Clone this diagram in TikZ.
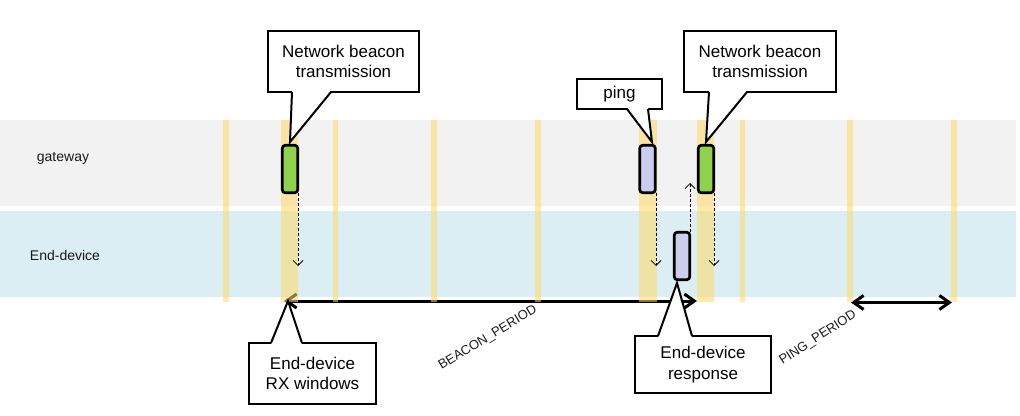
\documentclass[tikz,border=0pt]{standalone}
\usepackage{fontspec}
\setmainfont{Liberation Sans}
\usetikzlibrary{arrows.meta}
\definecolor{gwband}{HTML}{F2F2F2}
\definecolor{edband}{HTML}{DAEEF3}
\definecolor{stripecol}{HTML}{FFD966}
\definecolor{beaconcol}{HTML}{92D050}
\definecolor{pingcol}{HTML}{CCCCEE}
\begin{document}
\begin{tikzpicture}[x=1pt,y=-1pt,
  msgbox/.style={draw, line width=2.7pt, rounded corners=3pt, minimum width=15.5pt, minimum height=47.5pt, inner sep=0pt, outer sep=0pt},
  dasharrow/.style={dash pattern=on 3pt off 2pt, line width=0.8pt, -{Straight Barb[length=5pt,width=10pt]}},
  period/.style={line width=3pt, {Straight Barb[length=10pt,width=14pt]}-{Straight Barb[length=10pt,width=14pt]}},
  callbox/.style={draw, fill=white, line width=2pt, inner sep=0pt, outer sep=0pt, align=center, font=\fontsize{17}{20.5}\selectfont},
  pointer/.style={line width=2pt, line join=miter},
  lane/.style={font=\fontsize{14}{16}\selectfont, text=black!90},
  plabel/.style={font=\fontsize{13}{15}\selectfont, text=black!90, inner sep=0pt}]
\useasboundingbox (0,0) rectangle (1020,415);
% bands
\fill[gwband] (0,120) rectangle (1016,205.5);
\fill[edband] (0,211) rectangle (1016,297);
\node[lane] (lgw) at (63,158) {gateway};
\node[lane] (led) at (65,255) {End-device};
% period arrows
\coordinate (bp1) at (284,301);
\coordinate (bp2) at (697,301);
\draw[period] (bp1) -- (bp2);
\coordinate (pp1) at (851,302.5);
\coordinate (pp2) at (952,302.5);
\draw[period] (pp1) -- (pp2);
% stripes
\foreach \a/\b in {223/229, 281/297.5, 333/338, 431/437, 535/541, 639/657, 697.3/713.7, 740/745, 847.3/853.3, 951/957}
  \fill[stripecol, opacity=0.55] (\a,120) rectangle (\b,302);
% message boxes
\node[msgbox, fill=beaconcol] (g1) at (290,169) {};
\node[msgbox, fill=pingcol] (ping) at (647.5,169) {};
\node[msgbox, fill=beaconcol] (g2) at (706,169) {};
\node[msgbox, fill=pingcol] (resp) at (682,256) {};
% dashed arrows
\coordinate (a1) at (298,266);
\coordinate (a2) at (656,266);
\coordinate (a3) at (714,266);
\coordinate (u1) at (690,183);
\draw[dasharrow] (g1.south -| a1) -- (a1);
\draw[dasharrow] (ping.south -| a2) -- (a2);
\draw[dasharrow] (g2.south -| a3) -- (a3);
\draw[dasharrow] (resp.north -| u1) -- (u1);
% labels
\node[plabel, rotate=31] (bl) at (488,338) {BEACON\_PERIOD};
\node[plabel, rotate=33] (pl) at (818,338) {PING\_PERIOD};
% callouts
\node[callbox, minimum width=151pt, minimum height=61pt] (c1) at (343.5,61.5) {Network beacon\\transmission};
\coordinate (c1tip) at (290,142);
\fill[white] ([xshift=-51.5pt,yshift=1.5pt]c1.south) -- (c1tip) -- ([xshift=-12.5pt,yshift=1.5pt]c1.south) -- cycle;
\draw[pointer] ([xshift=-51.5pt]c1.south) -- (c1tip) -- ([xshift=-12.5pt]c1.south);

\node[callbox, minimum width=85pt, minimum height=30pt] (cp) at (619.5,94) {ping};
\coordinate (cptip) at (652,142);
\fill[white] ([xshift=7.5pt,yshift=1.5pt]cp.south) -- (cptip) -- ([xshift=28.5pt,yshift=1.5pt]cp.south) -- cycle;
\draw[pointer] ([xshift=7.5pt]cp.south) -- (cptip) -- ([xshift=28.5pt]cp.south);

\node[callbox, minimum width=152pt, minimum height=61pt] (c2) at (760,61.5) {Network beacon\\transmission};
\coordinate (c2tip) at (706,142);
\fill[white] ([xshift=-51pt,yshift=1.5pt]c2.south) -- (c2tip) -- ([xshift=-13pt,yshift=1.5pt]c2.south) -- cycle;
\draw[pointer] ([xshift=-51pt]c2.south) -- (c2tip) -- ([xshift=-13pt]c2.south);

\node[callbox, minimum width=127pt, minimum height=61pt] (c3) at (312.5,373.5) {End-device\\RX windows};
\coordinate (c3tip) at (288,301);
\fill[white] ([xshift=-41.5pt,yshift=-1.5pt]c3.north) -- (c3tip) -- ([xshift=-10.5pt,yshift=-1.5pt]c3.north) -- cycle;
\draw[pointer] ([xshift=-41.5pt]c3.north) -- (c3tip) -- ([xshift=-10.5pt]c3.north);

\node[callbox, minimum width=136pt, minimum height=57pt] (c4) at (703,364.5) {End-device\\response};
\coordinate (c4tip) at (677,283);
\fill[white] ([xshift=-45pt,yshift=-1.5pt]c4.north) -- (c4tip) -- ([xshift=-11pt,yshift=-1.5pt]c4.north) -- cycle;
\draw[pointer] ([xshift=-45pt]c4.north) -- (c4tip) -- ([xshift=-11pt]c4.north);
\end{tikzpicture}
\end{document}
